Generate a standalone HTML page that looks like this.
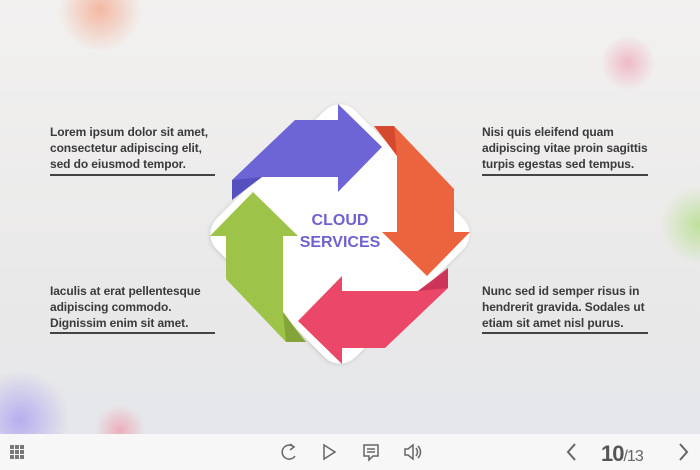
<!DOCTYPE html>
<html><head><style>
*{margin:0;padding:0}
body{width:700px;height:470px;position:relative;overflow:hidden;font-family:"Liberation Sans",sans-serif;
background:linear-gradient(#f2f1f0,#eae9e9 60%,#e4e6ea);}
.blob{position:absolute;border-radius:50%}
.t{position:absolute;font-size:12px;font-weight:bold;color:#3a3a3a;line-height:16px;white-space:nowrap;letter-spacing:-0.1px}
.u{position:absolute;height:2px;background:#444}
.bar{position:absolute;left:0;top:434px;width:700px;height:36px;background:#f7f7f7}
</style></head><body>
<div class="blob" style="left:55px;top:-30px;width:90px;height:80px;background:radial-gradient(circle,rgba(245,160,130,.7),rgba(245,160,130,0) 70%)"></div>
<div class="blob" style="left:600px;top:35px;width:56px;height:56px;background:radial-gradient(circle,rgba(240,150,170,.6),rgba(240,150,170,0) 70%)"></div>
<div class="blob" style="left:660px;top:185px;width:80px;height:80px;background:radial-gradient(circle,rgba(170,220,120,.7),rgba(170,220,120,0) 70%)"></div>
<div class="blob" style="left:-30px;top:370px;width:100px;height:100px;background:radial-gradient(circle,rgba(170,160,240,.8),rgba(170,160,240,0) 70%)"></div>
<div class="blob" style="left:95px;top:405px;width:50px;height:50px;background:radial-gradient(circle,rgba(240,150,170,.7),rgba(240,150,170,0) 70%)"></div>

<svg style="position:absolute;left:0;top:0" width="700" height="434">
<defs><filter id="sh" x="-20%" y="-20%" width="140%" height="140%"><feDropShadow dx="0" dy="1" stdDeviation="2" flood-color="#000" flood-opacity=".15"/></filter></defs>
<rect x="242" y="136" width="196" height="196" rx="22" fill="#fff" transform="rotate(45 340 234)" filter="url(#sh)"/>
<g transform="translate(340 234)">
<polygon points="-45,-114 -2,-114 -2,-130 42,-87 -2,-42 -2,-57 -78,-57 -108,-34 -108,-54" fill="#6d64d6"/>
<polygon points="-108,-34 -108,-54 -78,-57 -96,-44" fill="#5550c0"/>
<g transform="rotate(90)"><polygon points="-45,-114 -2,-114 -2,-130 42,-87 -2,-42 -2,-57 -78,-57 -108,-34 -108,-54" fill="#ec643d"/><polygon points="-108,-34 -108,-54 -78,-57 -96,-44" fill="#d44a30"/></g>
<g transform="rotate(180)"><polygon points="-45,-114 -2,-114 -2,-130 42,-87 -2,-42 -2,-57 -78,-57 -108,-34 -108,-54" fill="#ea4769"/><polygon points="-108,-34 -108,-54 -78,-57 -96,-44" fill="#cc3458"/></g>
<g transform="rotate(270)"><polygon points="-45,-114 -2,-114 -2,-130 42,-87 -2,-42 -2,-57 -78,-57 -108,-34 -108,-54" fill="#9dc448"/><polygon points="-108,-34 -108,-54 -78,-57 -96,-44" fill="#84a43a"/></g>
</g>
<text x="340" y="225" text-anchor="middle" font-family="Liberation Sans,sans-serif" font-weight="bold" font-size="16" fill="#6e62d0">CLOUD</text>
<text x="340" y="247" text-anchor="middle" font-family="Liberation Sans,sans-serif" font-weight="bold" font-size="16" fill="#6e62d0">SERVICES</text>
</svg>

<div class="t" style="left:50px;top:124px">Lorem ipsum dolor sit amet,<br>consectetur adipiscing elit,<br>sed do eiusmod tempor.</div>
<div class="u" style="left:50px;top:174px;width:165px"></div>
<div class="t" style="left:482px;top:124px">Nisi quis eleifend quam<br>adipiscing vitae proin sagittis<br>turpis egestas sed tempus.</div>
<div class="u" style="left:482px;top:174px;width:166px"></div>
<div class="t" style="left:50px;top:283px">Iaculis at erat pellentesque<br>adipiscing commodo.<br>Dignissim enim sit amet.</div>
<div class="u" style="left:50px;top:332px;width:165px"></div>
<div class="t" style="left:482px;top:283px">Nunc sed id semper risus in<br>hendrerit gravida. Sodales ut<br>etiam sit amet nisl purus.</div>
<div class="u" style="left:482px;top:332px;width:166px"></div>

<div class="bar">
<svg width="700" height="36" style="position:absolute;left:0;top:0" fill="none" stroke="#666" stroke-width="1.5">
<g fill="#777" stroke="none">
<rect x="10" y="11" width="4" height="4"/><rect x="15" y="11" width="4" height="4"/><rect x="20" y="11" width="4" height="4"/>
<rect x="10" y="16" width="4" height="4"/><rect x="15" y="16" width="4" height="4"/><rect x="20" y="16" width="4" height="4"/>
<rect x="10" y="21" width="4" height="4"/><rect x="15" y="21" width="4" height="4"/><rect x="20" y="21" width="4" height="4"/>
</g>
<path d="M294 13 A7 7 0 1 0 295 22"/><path d="M290 10 L294 13 L290 16"/>
<path d="M324 11 L335 18 L324 25 Z"/>
<path d="M364 11 H378 V22 H373 L369 26 V22 H364 Z"/><path d="M367 15 H375 M367 18 H375"/>
<path d="M405 15 H408 L413 11 V25 L408 21 H405 Z"/><path d="M416 14 Q419 18 416 22 M418 12 Q423 18 418 24"/>
<path d="M575 10 L568 18 L575 26" stroke-width="2"/>
<path d="M680 10 L687 18 L680 26" stroke-width="2"/>
</svg>
<div style="position:absolute;left:601px;top:7px;font-size:22px;font-weight:bold;color:#555;letter-spacing:-1px">10<span style="font-size:16px;font-weight:normal;color:#666">/13</span></div>
</div>
</body></html>
